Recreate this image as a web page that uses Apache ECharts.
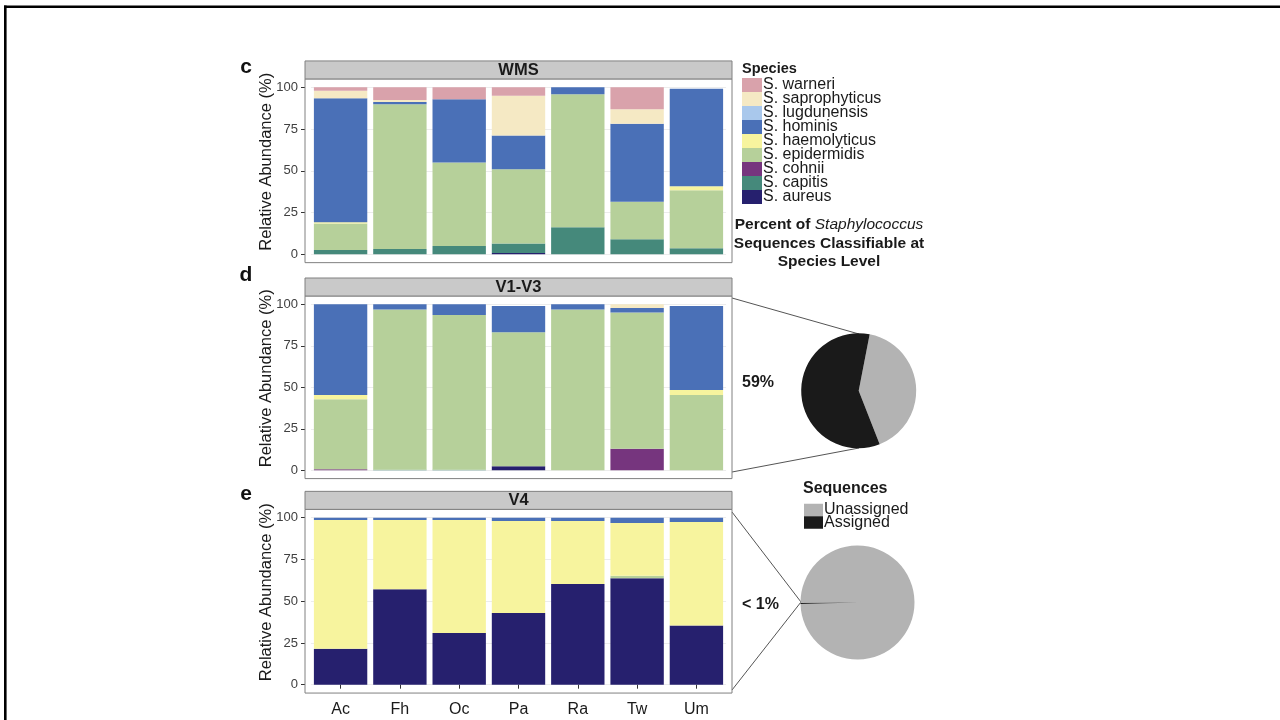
<!DOCTYPE html>
<html>
<head>
<meta charset="utf-8">
<script src="https://cdn.jsdelivr.net/npm/echarts@6/dist/echarts.min.js"></script>
<style>
  html, body { margin: 0; padding: 0; background: #ffffff; }
  #chart { width: 1280px; height: 720px; }
</style>
</head>
<body>
<div id="chart"></div>
<script>
// ---------------- data ----------------
const categories = ['Ac', 'Fh', 'Oc', 'Pa', 'Ra', 'Tw', 'Um'];
const speciesNames = ['S. aureus', 'S. capitis', 'S. cohnii', 'S. epidermidis', 'S. haemolyticus',
                      'S. hominis', 'S. lugdunensis', 'S. saprophyticus', 'S. warneri'];
const speciesColors = ['#26206E', '#45897B', '#76357E', '#B6D09A', '#F7F49E',
                       '#4A70B7', '#A9C8EC', '#F5E9C4', '#D9A2AB'];
const panelTitles = ['WMS', 'V1-V3', 'V4'];
const panelLetters = ['c', 'd', 'e'];

// WMS (stack order: aureus at bottom ... warneri on top)
const wmsAureus        = [0, 0, 0, 0.8, 0, 0, 0];
const wmsCapitis       = [2.6, 3.2, 5.0, 5.6, 16.2, 9.0, 3.6];
const wmsCohnii        = [0, 0, 0, 0, 0, 0, 0];
const wmsEpidermidis   = [15.8, 86.6, 49.9, 44.5, 79.6, 22.5, 34.7];
const wmsHaemolyticus  = [0.8, 0, 0, 0, 0, 0, 2.4];
const wmsHominis       = [74.2, 1.4, 37.9, 20.2, 4.2, 46.7, 58.5];
const wmsLugdunensis   = [0, 0, 0, 0, 0, 0, 0];
const wmsSaprophyticus = [4.6, 1.2, 0, 23.9, 0, 8.6, 0];
const wmsWarneri       = [2.0, 7.6, 7.2, 5.0, 0, 13.2, 0];

// V1-V3
const v13Aureus        = [0, 0, 0, 2.4, 0, 0, 0];
const v13Capitis       = [0, 0.4, 0.4, 0, 0, 0, 0];
const v13Cohnii        = [0.6, 0, 0, 0, 0, 13.0, 0];
const v13Epidermidis   = [42.2, 96.4, 93.2, 80.7, 96.8, 82.0, 45.4];
const v13Haemolyticus  = [2.6, 0, 0, 0, 0, 0, 3.0];
const v13Hominis       = [54.6, 3.2, 6.4, 15.9, 3.2, 2.8, 50.6];
const v13Lugdunensis   = [0, 0, 0, 0, 0, 0, 0];
const v13Saprophyticus = [0, 0, 0, 0, 0, 2.2, 0];
const v13Warneri       = [0, 0, 0, 0, 0, 0, 0];

// V4
const v4Aureus        = [21.6, 57.1, 30.9, 42.9, 60.3, 63.7, 35.5];
const v4Capitis       = [0, 0, 0, 0, 0, 0, 0];
const v4Cohnii        = [0, 0, 0, 0, 0, 0, 0];
const v4Epidermidis   = [0, 0, 0, 0, 0, 1.6, 0];
const v4Haemolyticus  = [77.0, 41.5, 67.7, 55.1, 37.7, 31.5, 61.9];
const v4Hominis       = [1.4, 1.4, 1.4, 2.0, 2.0, 3.2, 2.6];
const v4Lugdunensis   = [0, 0, 0, 0, 0, 0, 0];
const v4Saprophyticus = [0, 0, 0, 0, 0, 0, 0];
const v4Warneri       = [0, 0, 0, 0, 0, 0, 0];

// pies: percent of Staphylococcus sequences classifiable at species level
const pieNames = ['Unassigned', 'Assigned'];
const pieColors = ['#B3B3B3', '#1A1A1A'];
const pieV13 = [41, 59];
const pieV4 = [99.7, 0.3];
const pieLabels = ['59%', '< 1%'];

// ---------------- build ----------------
const panelData = [
  [wmsAureus, wmsCapitis, wmsCohnii, wmsEpidermidis, wmsHaemolyticus, wmsHominis, wmsLugdunensis, wmsSaprophyticus, wmsWarneri],
  [v13Aureus, v13Capitis, v13Cohnii, v13Epidermidis, v13Haemolyticus, v13Hominis, v13Lugdunensis, v13Saprophyticus, v13Warneri],
  [v4Aureus, v4Capitis, v4Cohnii, v4Epidermidis, v4Haemolyticus, v4Hominis, v4Lugdunensis, v4Saprophyticus, v4Warneri]
];

const FONT = '"Liberation Sans", Arial, Helvetica, sans-serif';
const panelLeft = 305, panelRight = 732;
const unitW = (panelRight - panelLeft) / 7.2;
const gridLeft = panelLeft + 0.1 * unitW;
const gridWidth = 7 * unitW;
const gridTops = [87.3, 304.3, 517.7];
const gridHeights = [167, 166, 167];
const stripH = 18;

const grids = [], xAxes = [], yAxes = [], series = [], graphics = [];

// outer black frame (top and left)
graphics.push({ type: 'rect', shape: { x: 4, y: 5.5, width: 1276, height: 2.6 }, style: { fill: '#000' }, silent: true });
graphics.push({ type: 'rect', shape: { x: 4, y: 5.5, width: 2.6, height: 714.5 }, style: { fill: '#000' }, silent: true });

for (let p = 0; p < 3; p++) {
  const top = gridTops[p], h = gridHeights[p];
  const pad = h * 0.05;
  const frameTop = top - pad, frameBottom = top + h + pad;
  const isLast = p === 2;
  grids.push({ left: gridLeft, width: gridWidth, top: top, height: h, containLabel: false });
  xAxes.push({
    type: 'category', gridIndex: p, data: categories, show: isLast,
    offset: pad,
    axisLine: { show: false },
    axisTick: { show: true, alignWithLabel: true, length: 4, lineStyle: { color: '#333', width: 1 } },
    axisLabel: { color: '#1a1a1a', fontSize: 16, fontFamily: FONT, margin: 9 },
    splitLine: { show: false }
  });
  yAxes.push({
    type: 'value', gridIndex: p, min: 0, max: 100, interval: 25,
    offset: gridLeft - panelLeft,
    axisLine: { show: false },
    axisTick: { show: true, length: 4, lineStyle: { color: '#333', width: 1 } },
    axisLabel: { color: '#404040', fontSize: 13, fontFamily: FONT, margin: 7 },
    splitLine: { show: true, lineStyle: { color: '#ececec', width: 1 } }
  });
  for (let s = 0; s < speciesNames.length; s++) {
    series.push({
      type: 'bar', name: speciesNames[s], xAxisIndex: p, yAxisIndex: p,
      stack: 'panel' + p, data: panelData[p][s], barWidth: '90%',
      itemStyle: { color: speciesColors[s] }, silent: true,
      emphasis: { disabled: true }
    });
  }
  // panel border
  graphics.push({ type: 'rect', z: 100, silent: true,
    shape: { x: panelLeft, y: frameTop, width: panelRight - panelLeft, height: frameBottom - frameTop },
    style: { fill: 'none', stroke: '#808080', lineWidth: 1 } });
  // strip
  graphics.push({ type: 'rect', z: 100, silent: true,
    shape: { x: panelLeft, y: frameTop - stripH, width: panelRight - panelLeft, height: stripH },
    style: { fill: '#c9c9c9', stroke: '#808080', lineWidth: 1 } });
  graphics.push({ type: 'text', z: 101, silent: true, x: (panelLeft + panelRight) / 2, y: frameTop - stripH / 2 + 0.5,
    style: { text: panelTitles[p], fill: '#1a1a1a', font: 'bold 16.5px ' + FONT, align: 'center', verticalAlign: 'middle' } });
  // panel letter
  graphics.push({ type: 'text', z: 101, silent: true, x: 246, y: frameTop - stripH - 3 + (p === 0 ? 9 : p === 1 ? 0 : 6),
    style: { text: panelLetters[p], fill: '#111', font: 'bold 21px ' + FONT, align: 'center', verticalAlign: 'middle' } });
  // y axis title centered across strip + panel
  graphics.push({ type: 'text', z: 101, silent: true, x: 266, y: (frameTop - stripH + frameBottom) / 2,
    rotation: Math.PI / 2,
    style: { text: 'Relative Abundance (%)', fill: '#1a1a1a', font: '16.5px ' + FONT, align: 'center', verticalAlign: 'middle' } });
}

// legend title + annotation texts
graphics.push({ type: 'text', silent: true, x: 742, y: 69,
  style: { text: 'Species', fill: '#1a1a1a', font: 'bold 14.5px ' + FONT, align: 'left', verticalAlign: 'middle' } });
graphics.push({ type: 'text', silent: true, x: 829, y: 225,
  style: { text: '{b|Percent of }{i|Staphylococcus}', align: 'center', verticalAlign: 'middle',
    rich: { b: { font: 'bold 15.5px ' + FONT, fill: '#1a1a1a' }, i: { font: 'italic 15.5px ' + FONT, fill: '#1a1a1a' } } } });
graphics.push({ type: 'text', silent: true, x: 829, y: 243.5,
  style: { text: 'Sequences Classifiable at', fill: '#1a1a1a', font: 'bold 15.5px ' + FONT, align: 'center', verticalAlign: 'middle' } });
graphics.push({ type: 'text', silent: true, x: 829, y: 262,
  style: { text: 'Species Level', fill: '#1a1a1a', font: 'bold 15.5px ' + FONT, align: 'center', verticalAlign: 'middle' } });
graphics.push({ type: 'text', silent: true, x: 803, y: 489,
  style: { text: 'Sequences', fill: '#1a1a1a', font: 'bold 16px ' + FONT, align: 'left', verticalAlign: 'middle' } });
graphics.push({ type: 'text', silent: true, x: 742, y: 383,
  style: { text: pieLabels[0], fill: '#1a1a1a', font: 'bold 16px ' + FONT, align: 'left', verticalAlign: 'middle' } });
graphics.push({ type: 'text', silent: true, x: 742, y: 605,
  style: { text: pieLabels[1], fill: '#1a1a1a', font: 'bold 16px ' + FONT, align: 'left', verticalAlign: 'middle' } });

// connector lines
const lineStyle = { stroke: '#555', lineWidth: 1 };
graphics.push({ type: 'line', silent: true, shape: { x1: 732, y1: 298, x2: 859, y2: 334 }, style: lineStyle });
graphics.push({ type: 'line', silent: true, shape: { x1: 732, y1: 472, x2: 859, y2: 448 }, style: lineStyle });
graphics.push({ type: 'line', silent: true, shape: { x1: 732, y1: 512, x2: 801, y2: 602 }, style: lineStyle });
graphics.push({ type: 'line', silent: true, shape: { x1: 732, y1: 690, x2: 801, y2: 602 }, style: lineStyle });

// pies
series.push({
  type: 'pie', center: [858.7, 390.8], radius: 57.5, startAngle: 79, clockwise: true,
  label: { show: false }, labelLine: { show: false }, silent: true, emphasis: { disabled: true },
  itemStyle: { borderWidth: 0 },
  data: pieNames.map((n, i) => ({ name: n, value: pieV13[i], itemStyle: { color: pieColors[i] } }))
});
series.push({
  type: 'pie', center: [857.5, 602.5], radius: 57, startAngle: 180.5, clockwise: true,
  label: { show: false }, labelLine: { show: false }, silent: true, emphasis: { disabled: true },
  itemStyle: { borderWidth: 0 },
  data: pieNames.map((n, i) => ({ name: n, value: pieV4[i], itemStyle: { color: pieColors[i] } }))
});

const option = {
  animation: false,
  backgroundColor: '#ffffff',
  grid: grids,
  xAxis: xAxes,
  yAxis: yAxes,
  legend: [
    {
      data: speciesNames.slice().reverse(), orient: 'vertical', left: 742, top: 77, padding: 0,
      itemWidth: 20, itemHeight: 14, itemGap: -2, icon: 'rect', selectedMode: false,
      textStyle: { fontSize: 16, lineHeight: 14, color: '#1a1a1a', fontFamily: FONT, padding: [0, 0, 0, -4] }
    },
    {
      data: pieNames, orient: 'vertical', left: 804, top: 502, padding: 0,
      itemWidth: 19, itemHeight: 12.5, itemGap: -3.5, icon: 'rect', selectedMode: false,
      textStyle: { fontSize: 16, lineHeight: 12.5, color: '#1a1a1a', fontFamily: FONT, padding: [0, 0, 0, -4] }
    }
  ],
  graphic: graphics,
  series: series
};

const chart = echarts.init(document.getElementById('chart'), null, { renderer: 'canvas' });
chart.setOption(option);
</script>
</body>
</html>
